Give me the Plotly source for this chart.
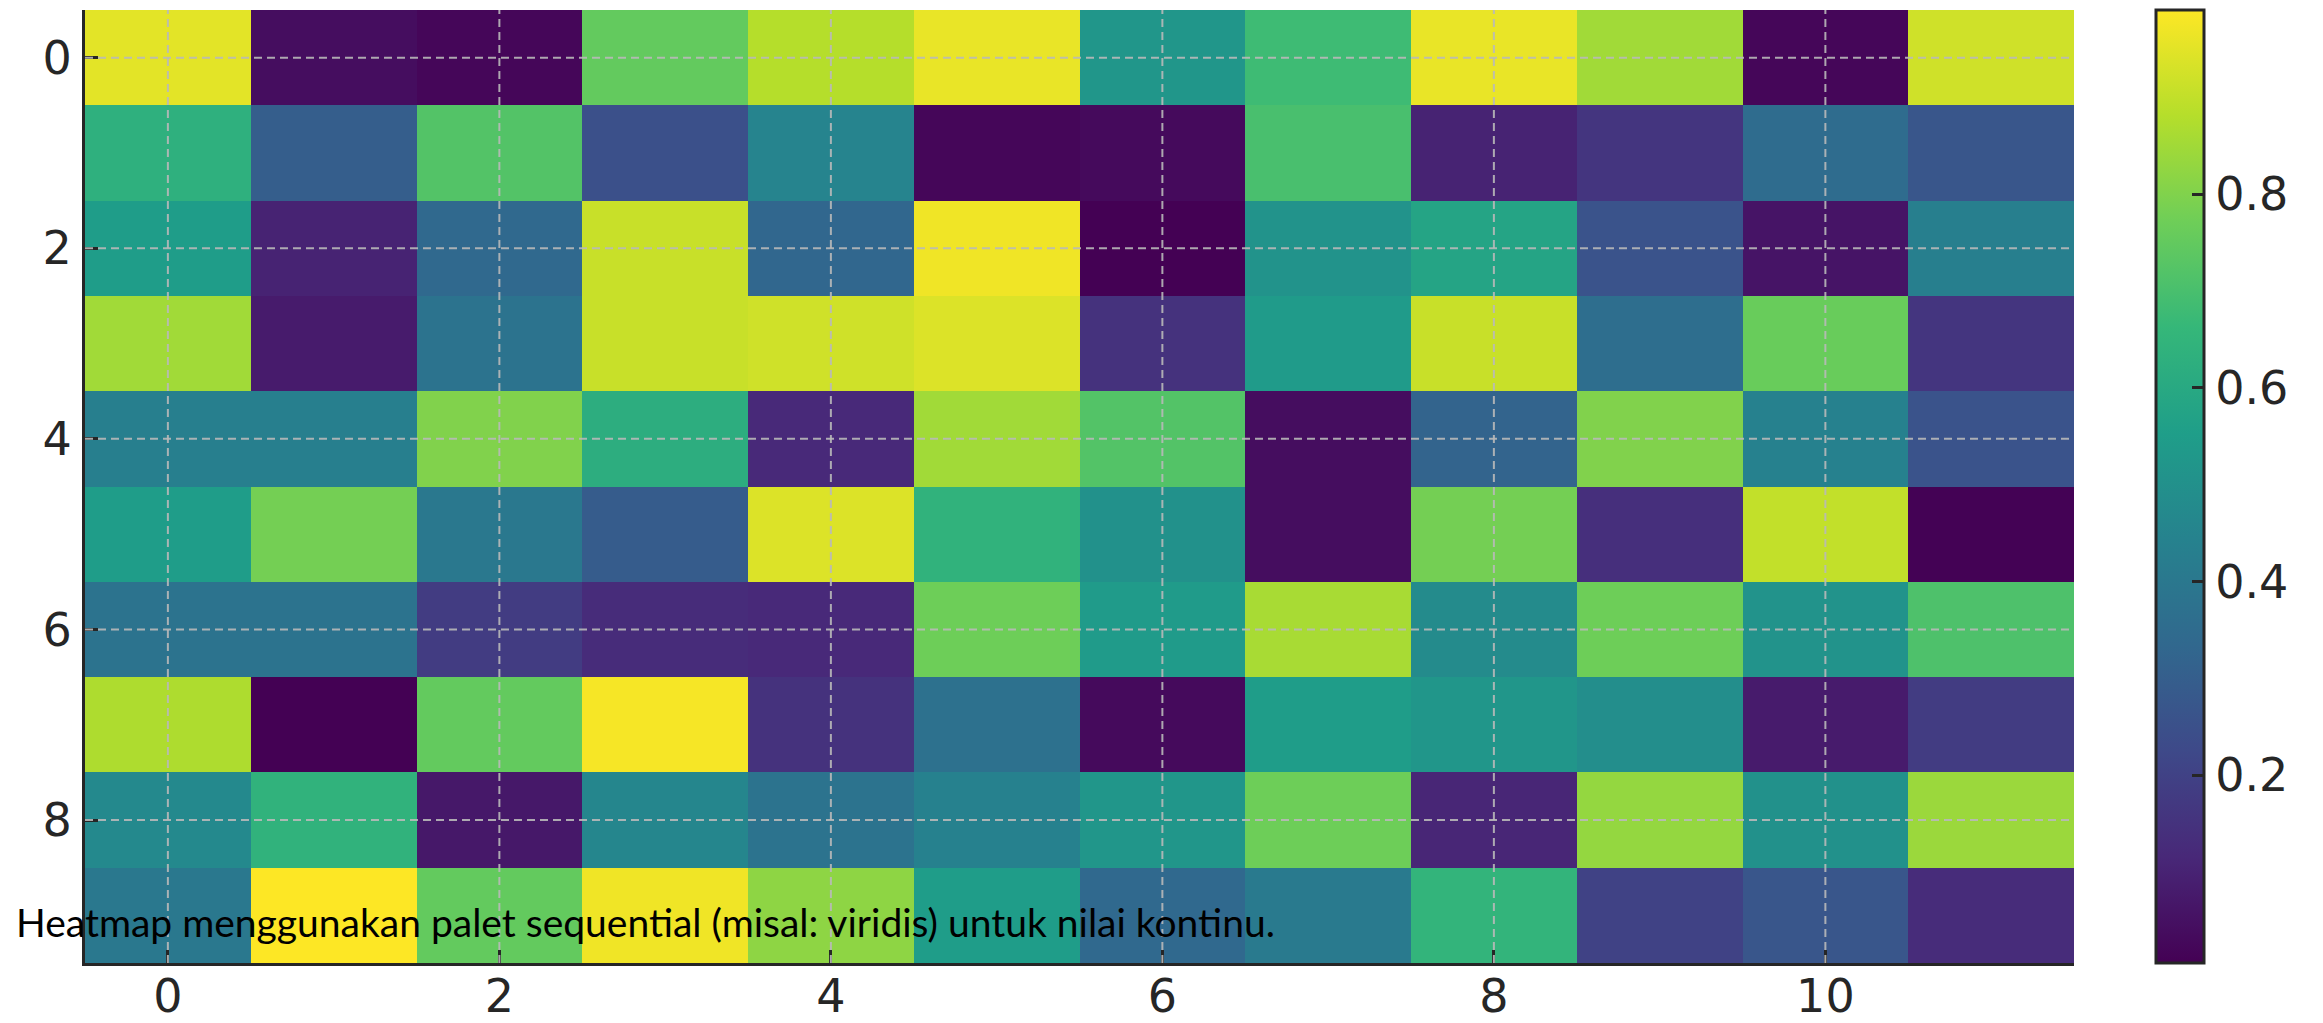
import plotly.graph_objects as go

# Heatmap values, one list per row (row 0 drawn at the top)
row_0 = [0.95, 0.04, 0.02, 0.75, 0.88, 0.96, 0.52, 0.68, 0.96, 0.85, 0.02, 0.92]
row_1 = [0.63, 0.30, 0.72, 0.25, 0.45, 0.02, 0.03, 0.70, 0.10, 0.16, 0.35, 0.27]
row_2 = [0.55, 0.10, 0.34, 0.91, 0.33, 0.97, 0.006, 0.51, 0.58, 0.26, 0.06, 0.43]
row_3 = [0.85, 0.08, 0.38, 0.91, 0.92, 0.94, 0.15, 0.54, 0.91, 0.36, 0.76, 0.16]
row_4 = [0.43, 0.43, 0.80, 0.62, 0.12, 0.85, 0.72, 0.04, 0.32, 0.80, 0.44, 0.26]
row_5 = [0.55, 0.78, 0.40, 0.29, 0.94, 0.64, 0.50, 0.04, 0.78, 0.14, 0.90, 0.01]
row_6 = [0.38, 0.38, 0.18, 0.13, 0.12, 0.77, 0.54, 0.86, 0.48, 0.77, 0.51, 0.71]
row_7 = [0.87, 0.006, 0.75, 0.98, 0.15, 0.37, 0.03, 0.55, 0.52, 0.49, 0.08, 0.18]
row_8 = [0.47, 0.64, 0.07, 0.46, 0.38, 0.44, 0.52, 0.77, 0.11, 0.83, 0.50, 0.84]
row_9 = [0.40, 0.99, 0.75, 0.97, 0.82, 0.55, 0.34, 0.41, 0.65, 0.20, 0.27, 0.13]

z_values = [row_0, row_1, row_2, row_3, row_4, row_5, row_6, row_7, row_8, row_9]
col_index = list(range(12))
row_index = list(range(10))

x_ticks = [0, 2, 4, 6, 8, 10]
y_ticks = [0, 2, 4, 6, 8]
cbar_ticks = [0.2, 0.4, 0.6, 0.8]

caption = "Heatmap menggunakan palet sequential (misal: viridis) untuk nilai kontinu."

flat = [v for r in z_values for v in r]
z_lo, z_hi = min(flat), max(flat)

ink = "#262626"
tick_font = dict(family="DejaVu Sans", size=46, color=ink)

fig = go.Figure(
    go.Heatmap(
        z=z_values,
        x=col_index,
        y=row_index,
        colorscale="Viridis",
        zmin=z_lo,
        zmax=z_hi,
        xgap=0,
        ygap=0,
        colorbar=dict(
            x=1.0412,
            xanchor="left",
            xpad=0,
            y=0.5,
            yanchor="middle",
            len=1.0,
            lenmode="fraction",
            ypad=0,
            thickness=48,
            thicknessmode="pixels",
            outlinewidth=3,
            outlinecolor=ink,
            tickvals=cbar_ticks,
            ticktext=[f"{t:.1f}" for t in cbar_ticks],
            ticks="inside",
            ticklen=13,
            tickwidth=3,
            tickcolor=ink,
            tickfont=tick_font,
        ),
    )
)

# dashed grid drawn over the cells
grid_style = dict(color="rgba(185,185,185,0.9)", width=2, dash="8px,5px")
for xv in x_ticks:
    fig.add_shape(type="line", xref="x", yref="paper", x0=xv, x1=xv, y0=0, y1=1,
                  line=grid_style, layer="above")
for yv in y_ticks:
    fig.add_shape(type="line", xref="paper", yref="y", x0=0, x1=1, y0=yv, y1=yv,
                  line=grid_style, layer="above")

fig.add_annotation(
    text=caption,
    xref="paper", yref="paper",
    x=-0.0355, y=0.043,
    xanchor="left", yanchor="middle",
    showarrow=False,
    font=dict(family="Lato", size=39, color="black"),
)

axis_common = dict(
    showgrid=False,
    zeroline=False,
    showline=True,
    linecolor=ink,
    linewidth=3,
    mirror=False,
    ticks="inside",
    ticklen=13,
    tickwidth=3,
    tickcolor=ink,
    tickfont=tick_font,
    automargin=False,
)

fig.update_layout(
    width=2323,
    height=1023,
    margin=dict(l=85, r=249, t=10, b=60, autoexpand=False),
    paper_bgcolor="white",
    plot_bgcolor="white",
    xaxis=dict(axis_common, range=[-0.5, 11.5], tickvals=x_ticks,
               ticklabelstandoff=-9),
    yaxis=dict(axis_common, range=[9.5, -0.5], tickvals=y_ticks,
               ticklabelstandoff=1),
    showlegend=False,
)

fig.write_html("out.html")
